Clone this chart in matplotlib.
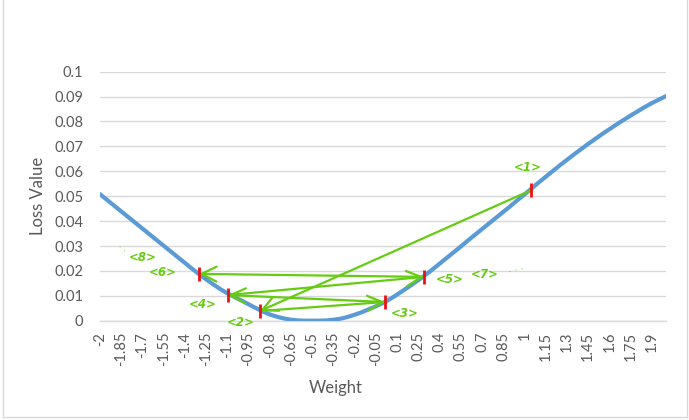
import numpy as np
import matplotlib
matplotlib.use("Agg")
import matplotlib.pyplot as plt
from matplotlib.lines import Line2D

# ---- data ----
weights = np.linspace(-2.0, 2.0, 81)
loss = [0.0508, 0.0485, 0.0462, 0.0439, 0.0416, 0.0393, 0.0370, 0.0347, 0.0324, 0.0301,
        0.0278, 0.0255, 0.0232, 0.0209, 0.0187, 0.0166, 0.0146, 0.0127, 0.0110, 0.0095,
        0.0081, 0.0066, 0.0051, 0.0037, 0.0025, 0.0016, 0.0009, 0.0004, 0.0001, 0.0000,
        0.0000, 0.0000, 0.0001, 0.0004, 0.0008, 0.0015, 0.0024, 0.0034, 0.0046, 0.0058,
        0.0071, 0.0087, 0.0105, 0.0124, 0.0143, 0.0163, 0.0184, 0.0206, 0.0229, 0.0252,
        0.0275, 0.0298, 0.0322, 0.0345, 0.0368, 0.0391, 0.0414, 0.0437, 0.0460, 0.0484,
        0.0507, 0.0531, 0.0555, 0.0578, 0.0601, 0.0624, 0.0646, 0.0668, 0.0689, 0.0710,
        0.0730, 0.0750, 0.0769, 0.0788, 0.0806, 0.0824, 0.0841, 0.0858, 0.0874, 0.0888,
        0.0902]
xtick_labels = ["-2", "-1.85", "-1.7", "-1.55", "-1.4", "-1.25", "-1.1", "-0.95", "-0.8",
                "-0.65", "-0.5", "-0.35", "-0.2", "-0.05", "0.1", "0.25", "0.4", "0.55",
                "0.7", "0.85", "1", "1.15", "1.3", "1.45", "1.6", "1.75", "1.9"]
ytick_values = [0, 0.01, 0.02, 0.03, 0.04, 0.05, 0.06, 0.07, 0.08, 0.09, 0.1]
ytick_labels = ["0", "0.01", "0.02", "0.03", "0.04", "0.05", "0.06", "0.07", "0.08", "0.09", "0.1"]

# optimisation steps (hand-drawn annotations)
step_w = [1.046, -0.869, 0.014, -1.095, 0.290, -1.300]
step_loss = [0.0524, 0.0039, 0.0075, 0.0103, 0.0176, 0.0188]
step_labels = ["<1>", "<2>", "<3>", "<4>", "<5>", "<6>"]

# ---- figure ----
W, H = 689, 420
fig = plt.figure(figsize=(W / 100, H / 100), dpi=100)
fig.patch.set_facecolor("white")
ax = fig.add_axes([100 / W, 1 - 320.7 / H, 566 / W, (320.7 - 71.7) / H])

FONT = "Lato"
TXT = "#595959"
GRID = "#d9d9d9"
BLUE = "#5b9bd5"
GREEN = "#66cc11"

ax.plot(weights, loss, color=BLUE, lw=3.0, solid_capstyle="round", zorder=3)

ax.set_xlim(-2.0, 2.0)
ax.set_ylim(0, 0.1)
ax.set_yticks(ytick_values)
ax.set_yticklabels(ytick_labels, fontfamily=FONT, fontsize=10.5, color=TXT)
ax.set_xticks(weights[::3][:len(xtick_labels)])
ax.set_xticklabels(xtick_labels, rotation=90, fontfamily=FONT, fontsize=10.5, color=TXT)
ax.tick_params(axis="y", length=0, pad=12)
ax.tick_params(axis="x", length=0, pad=8)
ax.grid(axis="y", color=GRID, lw=1.0)
ax.set_axisbelow(True)
for s in ["top", "right", "left"]:
    ax.spines[s].set_visible(False)
ax.spines["bottom"].set_color(GRID)
ax.spines["bottom"].set_linewidth(1.0)

# red step markers
ax.plot(step_w, step_loss, linestyle="none", marker="|", markersize=10,
        markeredgewidth=2.0, color="#ee1111", zorder=5)

# green arrows between steps
for i in range(len(step_w) - 1):
    ax.annotate("", xy=(step_w[i + 1], step_loss[i + 1]), xytext=(step_w[i], step_loss[i]),
                arrowprops=dict(arrowstyle="->,head_length=0.9,head_width=0.45",
                                color=GREEN, lw=1.6, shrinkA=0, shrinkB=0,
                                mutation_scale=12),
                zorder=4)

# step labels (offsets in pixels from each step point)
label_offsets = [(-3, 23), (-19, -12), (20, -11), (-25, -9), (26, -3), (-36, 1)]
for w, l, lab, off in zip(step_w, step_loss, step_labels, label_offsets):
    ax.annotate(lab, xy=(w, l), xytext=off, textcoords="offset pixels",
                ha="center", va="center", color=GREEN, fontsize=8.5,
                fontweight="bold", fontstyle="italic", fontfamily="DejaVu Sans")
ax.annotate("<7>", xy=(step_w[4], step_loss[4]), xytext=(61, 2), textcoords="offset pixels",
            ha="center", va="center", color=GREEN, fontsize=8.5, fontweight="bold",
            fontstyle="italic", fontfamily="DejaVu Sans")
ax.annotate(". . .", xy=(step_w[4], step_loss[4]), xytext=(92, 9), textcoords="offset pixels",
            ha="center", va="center", color=GREEN, fontsize=7, rotation=12,
            fontfamily="DejaVu Sans")
ax.annotate("<8>", xy=(step_w[5], step_loss[5]), xytext=(-56, 16), textcoords="offset pixels",
            ha="center", va="center", color=GREEN, fontsize=8.5, fontweight="bold",
            fontstyle="italic", fontfamily="DejaVu Sans")
ax.annotate(". .", xy=(step_w[5], step_loss[5]), xytext=(-76, 27), textcoords="offset pixels",
            ha="center", va="center", color=GREEN, fontsize=7, rotation=-40,
            fontfamily="DejaVu Sans")

# axis titles
fig.text(38 / W, 1 - 196 / H, "Loss Value", rotation=90, ha="center", va="center",
         fontfamily=FONT, fontsize=12, color=TXT)
fig.text(336 / W, 1 - 388 / H, "Weight", ha="center", va="center",
         fontfamily=FONT, fontsize=12, color=TXT)

# chart-area border (light)
fig.add_artist(Line2D([3 / W, 3 / W], [1 - 417 / H, 1.0], transform=fig.transFigure, color=GRID, lw=1))
fig.add_artist(Line2D([687 / W, 687 / W], [1 - 417 / H, 1.0], transform=fig.transFigure, color=GRID, lw=1))
fig.add_artist(Line2D([3 / W, 687 / W], [1 - 417 / H, 1 - 417 / H], transform=fig.transFigure, color=GRID, lw=1))

fig.savefig("out.png", dpi=100, facecolor="white")
